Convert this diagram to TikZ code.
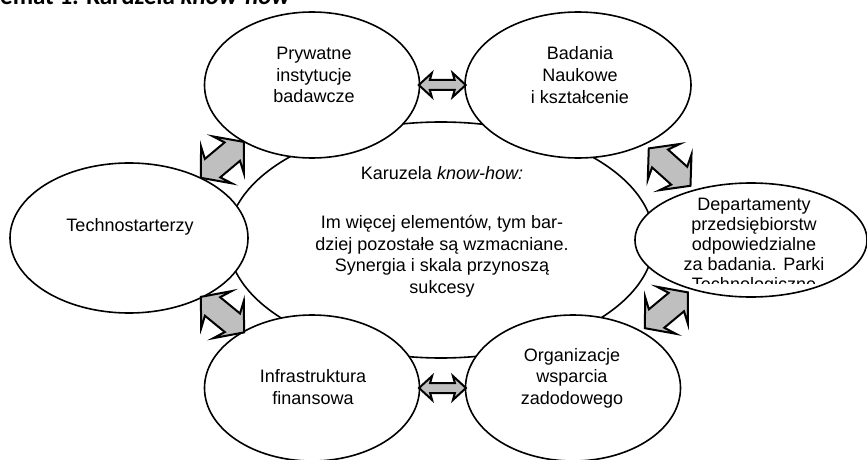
\documentclass[tikz,border=0pt]{standalone}
\usepackage{fontspec}
\setmainfont{Liberation Sans}
\newfontfamily\titlefont{Carlito}
\usetikzlibrary{
shapes.geometric,
shapes.arrows,
positioning
}
\tikzset{>=latex}

\begin{document}
\begin{tikzpicture}[x=0.5pt, y=-0.5pt, font=\fontsize{9}{10.8}\selectfont,
	field/.style={
		ellipse,
		draw,
		line width=0.8pt,
		fill=white,
		inner sep=0pt
	},
	caption/.style={align=center, inner sep=0pt},
	swap/.style={
		double arrow,
		draw,
		fill=gray!50,
		line width=1pt,
		inner xsep=0pt,
		sloped
	},
	flat swap/.style={swap, inner ysep=2pt, minimum height=23.5pt, double arrow head extend=3.5pt, double arrow tip angle=85, double arrow head indent=1pt},
	steep swap/.style={swap, inner ysep=5.5pt, minimum height=28pt, double arrow head extend=6pt, double arrow tip angle=100, double arrow head indent=2.5pt}]
		\useasboundingbox (0,0) rectangle (867,460);
		\node[anchor=base east, inner sep=0pt, font=\titlefont\fontsize{12.5}{15}\selectfont\bfseries] (title) at (291,5) {Schemat 1. Karuzela \textit{know-how}};

		\node[field, minimum width=213pt,   minimum height=118pt] (hub)      at (441,240) {};
		\node[field, minimum width=107.5pt, minimum height=73pt]  (private)  at (312,85)  {};
		\node[field, minimum width=113pt,   minimum height=73pt]  (research) at (578,85)  {};
		\node[field, minimum width=119pt,   minimum height=75pt]  (starters) at (129,238) {};
		\node[field, minimum width=116pt,   minimum height=57pt]  (depts)    at (751,240) {};
		\node[field, minimum width=107.5pt, minimum height=73pt]  (finance)  at (312,388) {};
		\node[field, minimum width=107.5pt, minimum height=73pt]  (support)  at (573,388) {};

		\node[caption] (hubtext)      at (442,232) {Karuzela \textit{know-how:}\\[13.5pt]Im więcej elementów, tym bar-\\dziej pozostałe są wzmacniane.\\Synergia i skala przynoszą\\sukcesy};
		\node[caption] (privatetext)  at (314,75)  {Prywatne\\instytucje\\badawcze};
		\node[caption] (researchtext) at (580,75)  {Badania\\Naukowe\\i kształcenie};
		\node[caption] (starterstext) at (130,227) {Technostarterzy};
		\node[caption] (financetext)  at (313,387) {Infrastruktura\\finansowa};
		\node[caption] (supporttext)  at (572,378) {Organizacje\\wsparcia\\zadodowego};
		\begin{scope}
			\clip (630,180) rectangle (867,283.5);
			\node[caption, font=\fontsize{9}{10}\selectfont] (deptstext) at (754,246) {Departamenty\\przedsiębiorstw\\odpowiedzialne\\za badania. Parki\\Technologiczne};
		\end{scope}

		\path (private)  -- node[flat swap]  (swaptop)    {} (research);
		\path (research) -- node[steep swap] (swapne)     {} (depts);
		\path (depts)    -- node[steep swap] (swapse)     {} (support);
		\path (finance)  -- node[flat swap]  (swapbottom) {} (support);
		\path (starters) -- node[steep swap] (swapsw)     {} (finance);
		\path (starters) -- node[steep swap] (swapnw)     {} (private);
	\end{tikzpicture}
\end{document}
